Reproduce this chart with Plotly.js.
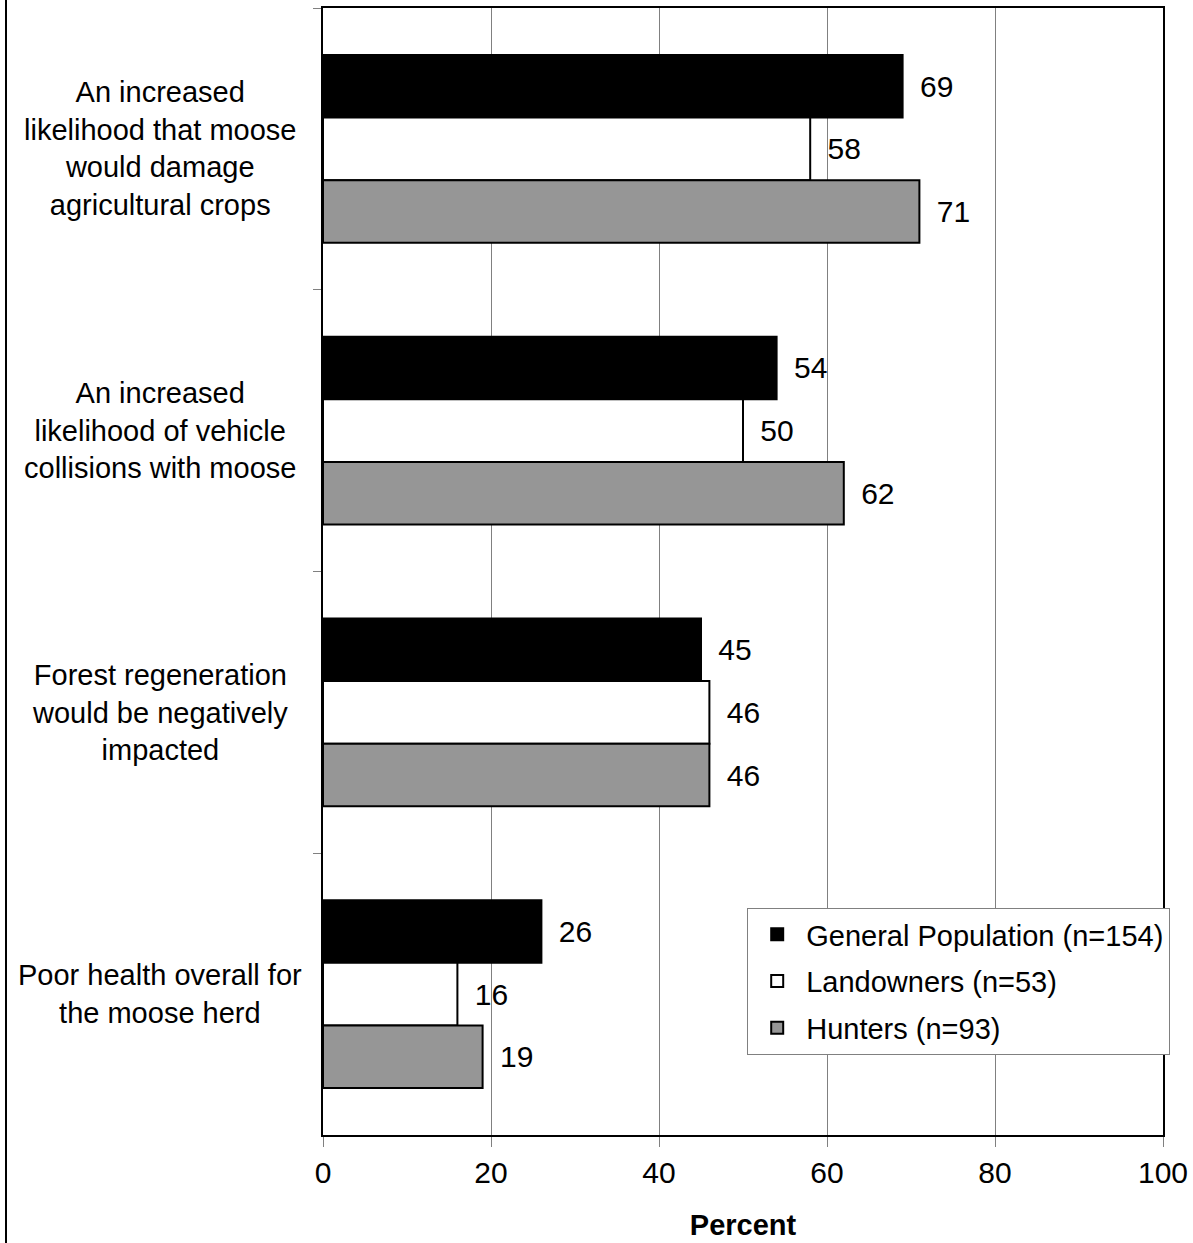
<!DOCTYPE html>
<html>
<head>
<meta charset="utf-8">
<script src="https://cdn.plot.ly/plotly-3.0.1.min.js"></script>
<style>
  html, body { margin: 0; padding: 0; background: #fff; }
  #wrap { position: relative; width: 1193px; height: 1243px; }
  #chart { width: 1193px; height: 1243px; }
  #edge { position: absolute; left: 5px; top: 0; width: 2px; height: 1243px; background: #000; }
</style>
</head>
<body>
<div id="wrap">
  <div id="chart"></div>
  <div id="edge"></div>
</div>
<script>
const categories = [
  "An increased<br>likelihood that moose<br>would damage<br>agricultural crops",
  "An increased<br>likelihood of vehicle<br>collisions with moose",
  "Forest regeneration<br>would be negatively<br>impacted",
  "Poor health overall for<br>the moose herd"
];
const seriesNames = ["General Population (n=154)", "Landowners (n=53)", "Hunters (n=93)"];
const generalPopulation = [69, 54, 45, 26];
const landowners = [58, 50, 46, 16];
const hunters = [71, 62, 46, 19];
const xTicks = [0, 20, 40, 60, 80, 100];

const FONT = "Liberation Sans, Arial, Helvetica, sans-serif";
const FS = 29;
const NUMFS = 30;
const colors = ["#000000", "#ffffff", "#969696"];
const seriesValues = [generalPopulation, landowners, hunters];

const traces = seriesValues.map((vals, i) => ({
  type: "bar",
  orientation: "h",
  name: seriesNames[i],
  legendgroup: "g" + i,
  y: categories,
  x: vals,
  text: vals.map(v => "\u00a0\u2009" + v),
  textposition: "outside",
  cliponaxis: false,
  textfont: { family: FONT, size: NUMFS, color: "#000" },
  marker: { color: colors[i], line: { color: "#000", width: 2 } },
  hoverinfo: "x+name"
}));

const annotations = categories.map(c => ({
  xref: "paper", yref: "y",
  x: -0.194, y: c,
  text: c,
  showarrow: false,
  xanchor: "center", yanchor: "middle",
  align: "center",
  font: { family: FONT, size: FS, color: "#000" }
}));

const layout = {
  width: 1193, height: 1243,
  margin: { l: 323, r: 30, t: 8, b: 108 },
  paper_bgcolor: "#fff",
  plot_bgcolor: "#fff",
  font: { family: FONT, size: FS, color: "#000" },
  barmode: "group",
  bargap: 0.333,
  bargroupgap: 0,
  showlegend: true,
  legend: {
    x: 0.505, y: 0.2014, xanchor: "left", yanchor: "top",
    bgcolor: "#fff", bordercolor: "#808080", borderwidth: 1,
    font: { family: FONT, size: FS, color: "#000" },
    traceorder: "grouped", tracegroupgap: 6,
    itemwidth: 48
  },
  xaxis: {
    range: [0, 100],
    tickvals: xTicks,
    ticktext: xTicks.map(String),
    ticks: "outside", ticklen: 10, tickcolor: "#808080", tickwidth: 1,
    showgrid: true, gridcolor: "#808080", gridwidth: 1,
    showline: true, linecolor: "#000", linewidth: 2, mirror: true,
    zeroline: false,
    tickfont: { family: FONT, size: NUMFS, color: "#000" },
    title: { text: "<b>Percent</b>", font: { family: FONT, size: 29, color: "#000" }, standoff: 27 },
    fixedrange: true
  },
  yaxis: {
    type: "category",
    categoryorder: "array",
    categoryarray: categories,
    autorange: "reversed",
    showticklabels: false,
    ticks: "outside", ticklen: 8, tickcolor: "#808080", tickwidth: 1,
    tickson: "boundaries",
    showgrid: false,
    showline: true, linecolor: "#000", linewidth: 2, mirror: true,
    zeroline: false,
    fixedrange: true
  },
  annotations: annotations
};

Plotly.newPlot("chart", traces, layout, { displayModeBar: false, staticPlot: true });
</script>
</body>
</html>
